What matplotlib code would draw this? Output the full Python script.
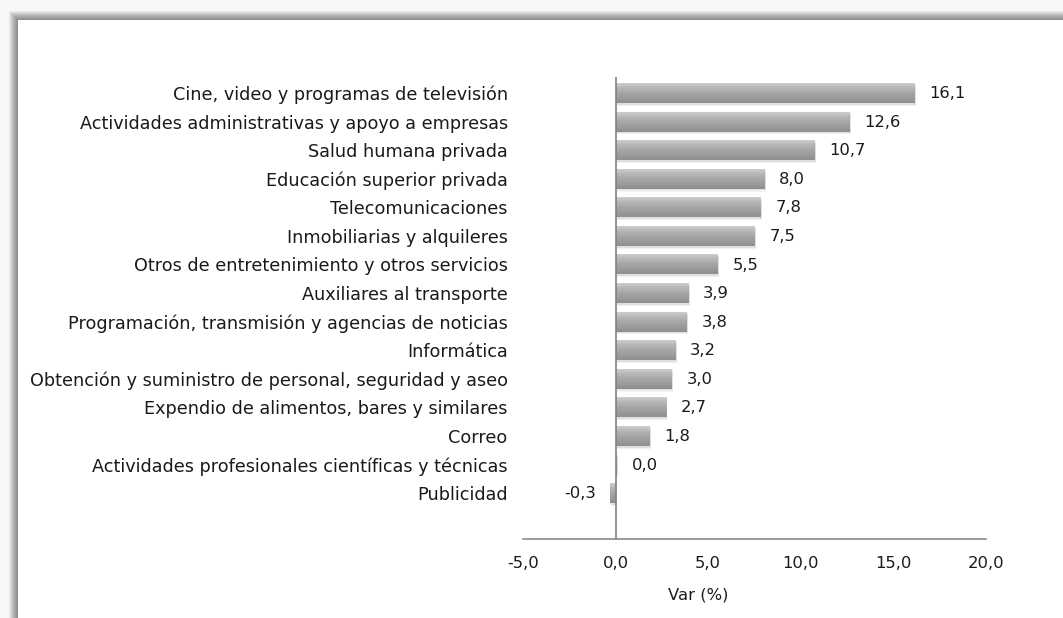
import matplotlib
matplotlib.use("Agg")
import matplotlib.pyplot as plt
import numpy as np
from matplotlib.colors import LinearSegmentedColormap

categories = [
    "Cine, video y programas de televisión",
    "Actividades administrativas y apoyo a empresas",
    "Salud humana privada",
    "Educación superior privada",
    "Telecomunicaciones",
    "Inmobiliarias y alquileres",
    "Otros de entretenimiento y otros servicios",
    "Auxiliares al transporte",
    "Programación, transmisión y agencias de noticias",
    "Informática",
    "Obtención y suministro de personal, seguridad y aseo",
    "Expendio de alimentos, bares y similares",
    "Correo",
    "Actividades profesionales científicas y técnicas",
    "Publicidad",
]
values = [16.1, 12.6, 10.7, 8.0, 7.8, 7.5, 5.5, 3.9, 3.8, 3.2, 3.0, 2.7, 1.8, 0.04, -0.3]
xticks = [-5, 0, 5, 10, 15, 20]
xlabel = "Var (%)"

plt.rcParams['font.family'] = ['DejaVu Sans']
FS = 11.8
FS_CAT = 12.7

W, H = 1063, 618
fig = plt.figure(figsize=(W / 100, H / 100), dpi=100)
fig.patch.set_facecolor("white")

# background frame with soft shadow
bg = fig.add_axes([0, 0, 1, 1], zorder=-5)
bg.set_xlim(0, W)
bg.set_ylim(H, 0)
bg.axis("off")
bg.add_patch(plt.Rectangle((0, 0), W, H, color="#f7f7f7", lw=0))
inner_x, inner_y = 18, 20
n = 10
for k in range(n, -1, -1):
    t = k / n
    g = 0.54 + 0.43 * t ** 1.3
    bg.add_patch(plt.Rectangle((inner_x - k, inner_y - k), W, H, facecolor=(g, g, g), lw=0))
bg.add_patch(plt.Rectangle((inner_x, inner_y), W, H, facecolor="white", lw=0))

ax = fig.add_axes([523 / W, 1 - 539 / H, (986 - 523) / W, (539 - 77) / H])
ax.set_facecolor("none")
ypos = np.arange(len(categories))
bh = 0.7

cmap = LinearSegmentedColormap.from_list(
    "bar", ["#cdcdcd", "#b6b6b6", "#a6a6a6", "#9b9b9b", "#8e8e8e"])
grad = np.linspace(0, 1, 64).reshape(-1, 1)

bars = ax.barh(ypos, values, height=bh, color="none", lw=0)
for b, v in zip(bars, values):
    x0 = min(0, v)
    x1 = max(0, v)
    y0 = b.get_y()
    # soft shadow
    for s, a in [(0.10, 0.10), (0.06, 0.15)]:
        ax.add_patch(plt.Rectangle((x0 + 0.05, y0 + s), x1 - x0 + 0.05, bh, facecolor="#7a7a7a",
                                   alpha=a, lw=0, zorder=1))
    ax.imshow(grad, cmap=cmap, aspect="auto", extent=(x0, x1, y0 + bh, y0),
              zorder=2, interpolation="bilinear")
ax.set_xlim(-5, 20)
ax.set_ylim(15.61, -0.56)

for y, v in zip(ypos, values):
    txt = f"{v:.1f}".replace(".", ",")
    if v < 0:
        ax.annotate(txt, (v, y), xytext=(-10, -0.5), textcoords="offset points",
                    ha="right", va="center", fontsize=FS, color="#1a1a1a")
    else:
        ax.annotate(txt, (v, y), xytext=(11, -0.5), textcoords="offset points",
                    ha="left", va="center", fontsize=FS, color="#1a1a1a")

ax.axvline(0, color="#808080", lw=1.2, zorder=3)
for s in ["top", "right", "left"]:
    ax.spines[s].set_visible(False)
ax.spines["bottom"].set_color("#8a8a8a")
ax.spines["bottom"].set_linewidth(1.2)

ax.set_yticks(ypos)
ax.set_yticklabels(categories, fontsize=FS_CAT, color="#1a1a1a")
ax.tick_params(axis="y", length=0, pad=11)
ax.set_xticks(xticks)
ax.set_xticklabels([f"{t:.1f}".replace(".", ",") for t in xticks], fontsize=FS, color="#1a1a1a")
ax.tick_params(axis="x", length=0, pad=12)
ax.set_xlabel(xlabel, fontsize=FS, color="#1a1a1a")
ax.xaxis.set_label_coords(0.378, -0.105)

fig.savefig("out.png", dpi=100, facecolor="white")
